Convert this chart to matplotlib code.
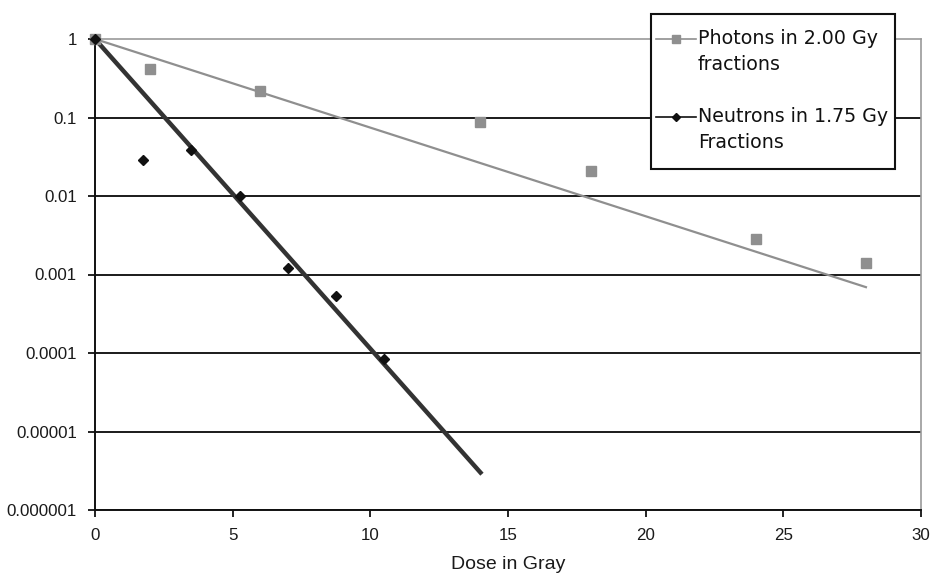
import numpy as np
import matplotlib.pyplot as plt
from matplotlib.lines import Line2D
from matplotlib.patches import Rectangle

# data
photon_dose = [0, 2, 6, 14, 18, 24, 28]
photon_surv = [1.0, 0.41, 0.22, 0.088, 0.021, 0.0028, 0.0014]
photon_fit_dose = [0, 28]
photon_fit_surv = [1.0, 0.00069]

neutron_dose = [0, 1.75, 3.5, 5.25, 7.0, 8.75, 10.5]
neutron_surv = [1.0, 0.029, 0.039, 0.010, 0.0012, 0.00053, 0.000083]
neutron_fit_dose = [0, 14]
neutron_fit_surv = [1.0, 3.0e-6]

x_ticks = [0, 5, 10, 15, 20, 25, 30]
y_ticks = [1, 0.1, 0.01, 0.001, 0.0001, 0.00001, 0.000001]
y_labels = ["1", "0.1", "0.01", "0.001", "0.0001", "0.00001", "0.000001"]

legend_labels = ["Photons in 2.00 Gy\nfractions", "Neutrons in 1.75 Gy\nFractions"]

GRAY = "#8f8f8f"
DARK = "#333333"

plt.rcParams["font.family"] = ["Liberation Sans", "DejaVu Sans"]

fig = plt.figure(figsize=(9.31, 5.73), dpi=100)
ax = fig.add_axes([95/931, 1-510/573, (921-95)/931, (510-39)/573])

ax.set_yscale("log")
ax.set_xlim(0, 30)
ax.set_ylim(1e-6, 1)

# gridlines
for v in y_ticks[1:]:
    ax.axhline(v, color="#1a1a1a", lw=1.4, zorder=1)

ax.plot(photon_fit_dose, photon_fit_surv, color=GRAY, lw=1.6, zorder=2)
ax.plot(neutron_fit_dose, neutron_fit_surv, color=DARK, lw=3.2, zorder=3)
ax.plot(photon_dose, photon_surv, ls="none", marker="s", ms=7.5, color=GRAY,
        mec=GRAY, zorder=4, clip_on=False)
ax.plot(neutron_dose, neutron_surv, ls="none", marker="D", ms=5.5, color="#111111",
        zorder=5, clip_on=False)

ax.set_xticks(x_ticks)
ax.set_yticks(y_ticks)
ax.set_yticklabels(y_labels)
ax.minorticks_off()
ax.tick_params(axis="both", direction="out", length=5, width=1.3, colors="#111111",
               labelsize=12.2, labelcolor="#1a1a1a")
ax.tick_params(axis="x", pad=8)
ax.tick_params(axis="y", pad=8)

for s in ["left", "bottom"]:
    ax.spines[s].set_color("#111111")
    ax.spines[s].set_linewidth(1.4)
for s in ["top", "right"]:
    ax.spines[s].set_color("#9a9a9a")
    ax.spines[s].set_linewidth(1.2)

ax.set_xlabel("Dose in Gray", fontsize=14, color="#1a1a1a", labelpad=9)

# legend box, built by hand so the handles sit on the first text line
lx0, ly0 = 651/931, 1-169/573
lw_, lh_ = (895-651)/931, (169-14)/573
fig.add_artist(Rectangle((lx0, ly0), lw_, lh_, transform=fig.transFigure,
                         facecolor="white", edgecolor="#111111", lw=1.5, zorder=10))
handles = [(GRAY, "s", 6, GRAY), ("#111111", "D", 4, "#111111")]
rows = [39, 117]
for (c, m, ms, mc), lab, row in zip(handles, legend_labels, rows):
    yf = 1 - row/573
    fig.add_artist(Line2D([656/931, 696/931], [yf, yf], transform=fig.transFigure,
                          color=c, lw=1.2, zorder=11))
    fig.add_artist(Line2D([676/931], [yf], transform=fig.transFigure, marker=m,
                          ms=ms, color=mc, ls="none", zorder=12))
    fig.text(698/931, yf + 10/573, lab, fontsize=13.7, family=["DejaVu Sans"],
             color="#111111", va="top", ha="left", linespacing=1.45, zorder=12)

fig.savefig("out.png", dpi=100)
